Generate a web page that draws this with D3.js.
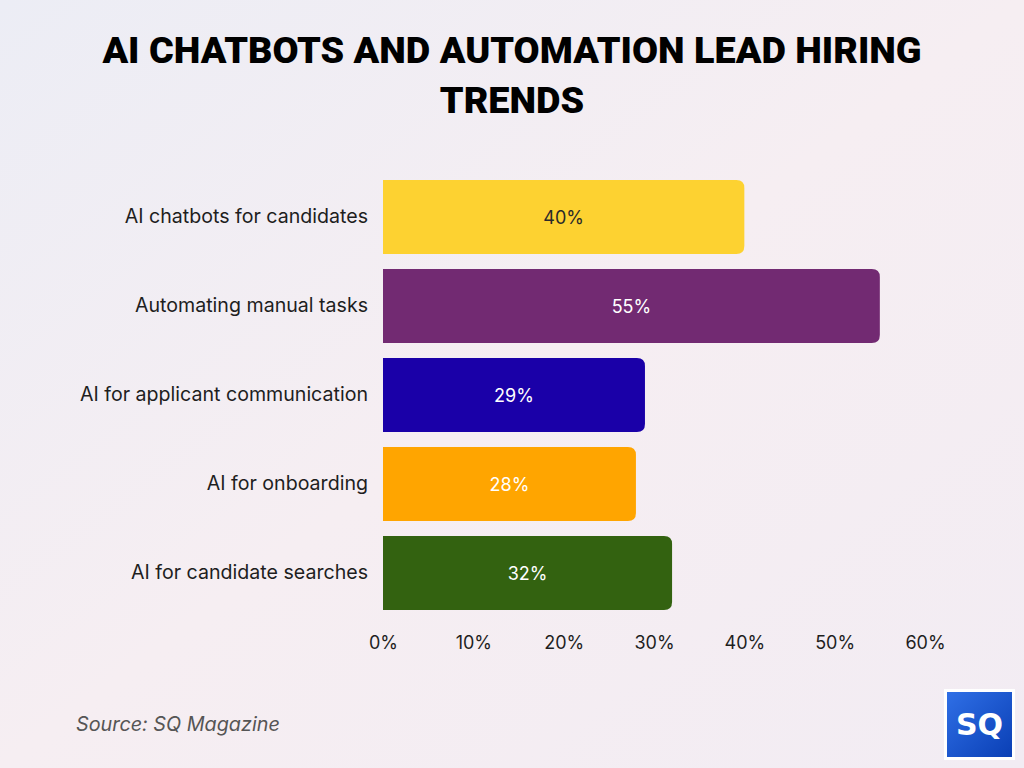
<!DOCTYPE html>
<html>
<head>
<meta charset="utf-8">
<script src="https://cdn.jsdelivr.net/npm/d3@7"></script>
<style>
  html, body { margin: 0; padding: 0; }
  body { width: 1024px; height: 768px; overflow: hidden; }
</style>
</head>
<body>
<div id="chart"></div>
<script>
// chart data
var categories = ["AI chatbots for candidates", "Automating manual tasks", "AI for applicant communication", "AI for onboarding", "AI for candidate searches"]
var values = [40, 55, 29, 28, 32]
var colors = ["#FDD231", "#722A72", "#1A00A8", "#FFA500", "#336210"]
var labelColors = ["#2a2a2a", "#ffffff", "#ffffff", "#ffffff", "#ffffff"]
var ticks = [0, 10, 20, 30, 40, 50, 60]

var w = 1024
var h = 768

var svg = d3.select("#chart").append("svg").attr("width", w).attr("height", h)

// background
var defs = svg.append("defs")
var bg = defs.append("linearGradient").attr("id", "bg")
    .attr("x1", "0%").attr("y1", "0%").attr("x2", "100%").attr("y2", "100%")
bg.append("stop").attr("offset", "0%").attr("stop-color", "#ECEDF5")
bg.append("stop").attr("offset", "50%").attr("stop-color", "#F6EEF2")
bg.append("stop").attr("offset", "100%").attr("stop-color", "#F2ECF3")
svg.append("rect").attr("width", w).attr("height", h).attr("fill", "url(#bg)")

var logoGrad = defs.append("linearGradient").attr("id", "logo")
    .attr("x1", "0%").attr("y1", "0%").attr("x2", "100%").attr("y2", "100%")
logoGrad.append("stop").attr("offset", "0%").attr("stop-color", "#2F6FE6")
logoGrad.append("stop").attr("offset", "100%").attr("stop-color", "#0A3FB5")

// title
svg.append("text")
    .attr("x", 512).attr("y", 63)
    .attr("text-anchor", "middle")
    .style("font-family", "Roboto")
    .style("font-weight", 900)
    .style("font-size", "37.8px")
    .attr("fill", "#000")
    .text("AI CHATBOTS AND AUTOMATION LEAD HIRING")
svg.append("text")
    .attr("x", 512).attr("y", 113)
    .attr("text-anchor", "middle")
    .style("font-family", "Roboto")
    .style("font-weight", 900)
    .style("font-size", "37.8px")
    .attr("fill", "#000")
    .text("TRENDS")

var xScale = d3.scaleLinear().domain([0, 60]).range([383, 925])
var yScale = d3.scaleBand()
    .domain(categories)
    .range([172.5, 617.5])
    .paddingInner(0.169)
    .paddingOuter(0.0845)

var r = 8
function barPath(d, i) {
    var x0 = xScale(0), x1 = xScale(values[i])
    var y0 = yScale(d), y1 = y0 + yScale.bandwidth()
    return "M" + x0 + "," + y0 +
        "H" + (x1 - r) +
        "Q" + x1 + "," + y0 + " " + x1 + "," + (y0 + r) +
        "V" + (y1 - r) +
        "Q" + x1 + "," + y1 + " " + (x1 - r) + "," + y1 +
        "H" + x0 + "Z"
}

svg.selectAll(".bar")
    .data(categories)
    .enter()
    .append("path")
    .attr("class", "bar")
    .attr("d", barPath)
    .attr("fill", function(d, i) { return colors[i] })

svg.selectAll(".value")
    .data(categories)
    .enter()
    .append("text")
    .attr("class", "value")
    .attr("x", function(d, i) { return (xScale(0) + xScale(values[i])) / 2 })
    .attr("y", function(d) { return yScale(d) + yScale.bandwidth() / 2 + 7 })
    .attr("text-anchor", "middle")
    .style("font-family", "Inter")
    .style("font-size", "18px")
    .attr("fill", function(d, i) { return labelColors[i] })
    .text(function(d, i) { return values[i] + "%" })

svg.selectAll(".cat")
    .data(categories)
    .enter()
    .append("text")
    .attr("class", "cat")
    .attr("x", 368)
    .attr("y", function(d) { return yScale(d) + yScale.bandwidth() / 2 + 6 })
    .attr("text-anchor", "end")
    .style("font-family", "Inter")
    .style("font-size", "19.6px")
    .attr("fill", "#1e1e1e")
    .text(function(d) { return d })

// x axis
var axis = svg.append("g")
    .attr("transform", "translate(0,618)")
    .call(d3.axisBottom(xScale).tickValues(ticks).tickSize(0).tickPadding(18)
        .tickFormat(function(d) { return d + "%" }))
axis.select(".domain").remove()
axis.selectAll("text")
    .style("font-family", "Inter")
    .style("font-size", "18px")
    .attr("fill", "#1e1e1e")

// source
svg.append("text")
    .attr("x", 76).attr("y", 731)
    .style("font-family", "Inter")
    .style("font-style", "italic")
    .style("font-size", "19.8px")
    .attr("fill", "#555")
    .text("Source: SQ Magazine")

// logo
svg.append("rect")
    .attr("x", 944).attr("y", 689).attr("width", 71).attr("height", 71)
    .attr("fill", "#fff")
svg.append("rect")
    .attr("x", 947).attr("y", 692).attr("width", 65).attr("height", 65)
    .attr("fill", "url(#logo)")
svg.append("text")
    .attr("x", 979.5).attr("y", 735)
    .attr("text-anchor", "middle")
    .style("font-family", "DejaVu Sans")
    .style("font-weight", "bold")
    .style("font-size", "30px")
    .attr("fill", "#fff")
    .text("SQ")
</script>
</body>
</html>
